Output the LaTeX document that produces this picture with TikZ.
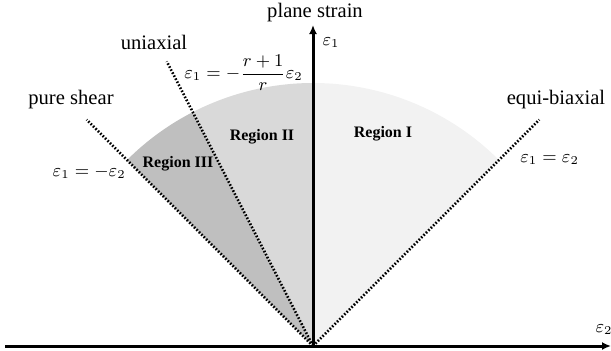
\documentclass[tikz,border=0pt]{standalone}
\usepackage{fontspec}
\usepackage{amsmath}
\usepackage{tikz}
\usetikzlibrary{arrows.meta,positioning,calc}
\setmainfont{Liberation Serif}
\definecolor{flcregA}{HTML}{F2F2F2}
\definecolor{flcregB}{HTML}{D9D9D9}
\definecolor{flcregC}{HTML}{BFBFBF}
\tikzset{
  axisline/.style={line width=1.5pt, -{Latex[length=4.5pt,width=4pt]}},
  pathline/.style={line width=1.3pt, dash pattern=on 0.8pt off 0.9pt},
  lbl/.style={inner sep=0pt, font=\fontsize{10.3}{12}\selectfont},
  eqlbl/.style={inner sep=0pt, font=\fontsize{9}{11}\selectfont},
  reglbl/.style={inner sep=0pt, font=\fontsize{8}{9.6}\selectfont\bfseries}
}

\begin{document}
\begin{tikzpicture}[x=0.5pt, y=0.5pt]
\useasboundingbox (0,0) rectangle (611,350);
\coordinate (O) at (313,4);
\coordinate (xl) at (5,4);
\coordinate (xr) at (611,4);
\coordinate (yt) at (313,325);
\coordinate (eqb) at ($(O)+(45:320)$);
\coordinate (psh) at ($(O)+(135:320)$);
\coordinate (uni) at ($(O)+(117.2:320)$);
% forming regions
\fill[flcregA] (O) -- ($(O)+(45:263)$) arc (45:90:263) -- cycle;
\fill[flcregB] (O) -- ($(O)+(90:263)$) arc (90:117.2:263) -- cycle;
\fill[flcregC] (O) -- ($(O)+(117.2:263)$) arc (117.2:135:263) -- cycle;
% strain paths
\draw[pathline] (O) -- (eqb);
\draw[pathline] (O) -- (psh);
\draw[pathline] (O) -- (uni);
% axes
\draw[axisline] (xl) -- (xr);
\draw[axisline] (O) -- (yt);
% labels
\node[lbl] (plstr) at (315,337) {plane strain};
\node[eqlbl] (e1ax) at (331,307) {$\varepsilon_1$};
\node[eqlbl] (e2ax) at (604,20) {$\varepsilon_2$};
\node[lbl] (unilbl) at (154,308) {uniaxial};
\node[lbl] (pshlbl) at (71,250) {pure shear};
\node[lbl] (eqblbl) at (556,250) {equi-biaxial};
\node[eqlbl, anchor=west] (unieq) at (184,277) {$\varepsilon_1 = -\dfrac{r+1}{r}\varepsilon_2$};
\node[eqlbl, anchor=east] (psheq) at (126,178) {$\varepsilon_1 = -\varepsilon_2$};
\node[eqlbl, anchor=west] (eqbeq) at (520,190) {$\varepsilon_1 = \varepsilon_2$};
\node[reglbl] (regI) at (383,216) {Region I};
\node[reglbl] (regII) at (262,213) {Region II};
\node[reglbl] (regIII) at (178,186) {Region III};
\end{tikzpicture}
\end{document}
